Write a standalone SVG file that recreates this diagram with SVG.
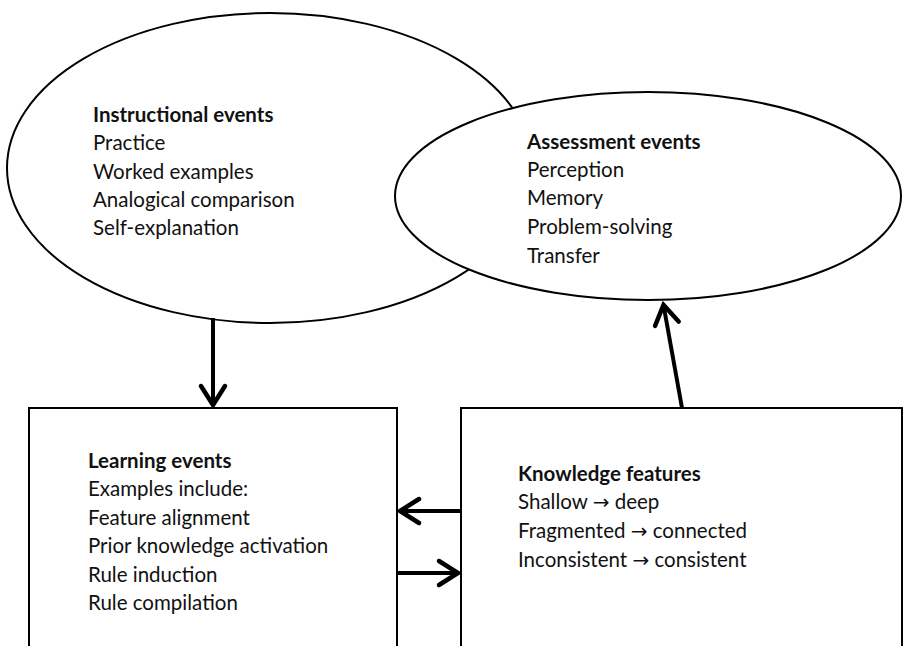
<svg xmlns="http://www.w3.org/2000/svg" width="908" height="646" viewBox="0 0 908 646">
<style>
.shape{fill:#fff;stroke:#000;stroke-width:2}
.t{font-family:Lato,"Liberation Sans",Arial,sans-serif;font-size:20.5px;fill:#111}
.b{font-weight:bold}
.a{font-family:"DejaVu Sans",sans-serif;font-size:20px}
.conn{stroke:#000;stroke-width:4;fill:none}
</style>
<defs>
<marker id="arr" markerUnits="userSpaceOnUse" viewBox="-24 -16 28 32" refX="0" refY="0" markerWidth="28" markerHeight="32" orient="auto" overflow="visible">
<path d="M-19,-12 L0,0 L-19,12" fill="none" stroke="#000" stroke-width="4.5" stroke-linecap="round" stroke-linejoin="miter"/>
</marker>
</defs>
<rect width="908" height="646" fill="#fff"/>
<g id="instructional">
<ellipse class="shape" cx="270" cy="168" rx="263" ry="155"/>
<text class="t"><tspan class="b" x="93" y="122">Instructional events</tspan><tspan x="93" y="150">Practice</tspan><tspan x="93" y="179">Worked examples</tspan><tspan x="93" y="207">Analogical comparison</tspan><tspan x="93" y="235">Self-explanation</tspan></text>
</g>
<g id="assessment">
<ellipse class="shape" cx="648" cy="196" rx="253" ry="104"/>
<text class="t"><tspan class="b" x="527" y="149">Assessment events</tspan><tspan x="527" y="177">Perception</tspan><tspan x="527" y="205">Memory</tspan><tspan x="527" y="234">Problem-solving</tspan><tspan x="527" y="263">Transfer</tspan></text>
</g>
<g id="learning">
<rect class="shape" x="29" y="408" width="368" height="260"/>
<text class="t"><tspan class="b" x="88" y="468">Learning events</tspan><tspan x="88" y="496">Examples include:</tspan><tspan x="88" y="525">Feature alignment</tspan><tspan x="88" y="553">Prior knowledge activation</tspan><tspan x="88" y="582">Rule induction</tspan><tspan x="88" y="610">Rule compilation</tspan></text>
</g>
<g id="knowledge">
<rect class="shape" x="461" y="408" width="441" height="260"/>
<text class="t"><tspan class="b" x="518" y="481">Knowledge features</tspan><tspan x="518" y="509">Shallow <tspan class="a">→</tspan> deep</tspan><tspan x="518" y="538">Fragmented <tspan class="a">→</tspan> connected</tspan><tspan x="518" y="567">Inconsistent <tspan class="a">→</tspan> consistent</tspan></text>
</g>
<g id="connectors">
<line class="conn" x1="213" y1="318" x2="213" y2="405" marker-end="url(#arr)"/>
<line class="conn" x1="682" y1="408" x2="663.5" y2="305" marker-end="url(#arr)"/>
<line class="conn" x1="461" y1="511" x2="400" y2="511" marker-end="url(#arr)"/>
<line class="conn" x1="397" y1="573" x2="458" y2="573" marker-end="url(#arr)"/>
</g>
</svg>
